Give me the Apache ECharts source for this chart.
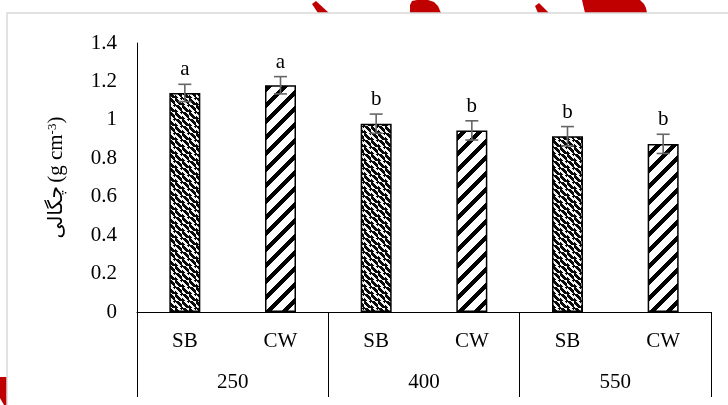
<!DOCTYPE html>
<html>
<head>
<meta charset="utf-8">
<script src="https://cdn.jsdelivr.net/npm/echarts@6/dist/echarts.min.js"></script>
<style>
html,body{margin:0;padding:0;background:#fff;}
#c{width:728px;height:405px;}
</style>
</head>
<body>
<div id="c"></div>
<script>
// ---- data ----
const subCategories = ['SB', 'CW', 'SB', 'CW', 'SB', 'CW'];
const groups = ['250', '400', '550'];
const density = [1.14, 1.18, 0.98, 0.945, 0.915, 0.875];
const errors = [0.045, 0.045, 0.05, 0.05, 0.05, 0.05];
const letters = ['a', 'a', 'b', 'b', 'b', 'b'];
const yMin = 0, yMax = 1.4, yStep = 0.2;

// ---- patterns ----
function makePattern(size, fn) {
  const c = document.createElement('canvas');
  c.width = size; c.height = size;
  const ctx = c.getContext('2d');
  const img = ctx.createImageData(size, size);
  for (let y = 0; y < size; y++) {
    for (let x = 0; x < size; x++) {
      const v = fn(x, y);
      const i = (y * size + x) * 4;
      img.data[i] = v; img.data[i + 1] = v; img.data[i + 2] = v; img.data[i + 3] = 255;
    }
  }
  ctx.putImageData(img, 0, 0);
  return c;
}
// SB: dense downward diagonal with a checker phase shift
const sbTile = makePattern(14, (x, y) => {
  const shift = ((Math.floor(x / 7) + Math.floor(y / 7)) % 2) * 2;
  const d = (x - y + shift + 140) % 7;
  return d < 4 ? 10 : 245;
});
// CW: wide upward diagonal
const cwTile = makePattern(16, (x, y) => (((x + y) % 16) < 6 ? 0 : 255));
const patterns = {
  SB: { image: sbTile, repeat: 'repeat' },
  CW: { image: cwTile, repeat: 'repeat' }
};

const FONT = '"Liberation Serif", "Times New Roman", serif';

const barData = density.map((v, i) => ({
  value: v,
  itemStyle: { color: patterns[subCategories[i]], borderColor: '#000', borderWidth: 1.5 }
}));
const errData = density.map((v, i) => [i, v, errors[i]]);

const RED = '#c00000';
const chart = echarts.init(document.getElementById('c'), null, { renderer: 'canvas' });
chart.setOption({
  animation: false,
  backgroundColor: '#fff',
  graphic: [
    { type: 'polygon', z: -5, shape: { points: [[312, 4], [316, 1], [329, 13], [318, 13]] }, style: { fill: RED } },
    { type: 'polygon', z: -5, shape: { points: [[410, 13], [410, 5], [412, 1], [417, 0], [428, 0], [434, 2], [438, 6], [441, 13]] }, style: { fill: RED } },
    { type: 'polygon', z: -5, shape: { points: [[535, 6], [539, 3], [549, 13], [538, 13]] }, style: { fill: RED } },
    { type: 'polygon', z: -5, shape: { points: [[582, 0], [640, 0], [644, 4], [646, 8], [647, 13], [585, 13]] }, style: { fill: RED } },
    { type: 'polygon', z: -5, shape: { points: [[0, 377], [7, 377], [7, 405], [4, 405], [0, 398]] }, style: { fill: RED } },
    { type: 'rect', z: -4, shape: { x: 7, y: 13, width: 800, height: 500 }, style: { fill: '#fff', stroke: '#d9d9d9', lineWidth: 1.5 } }
  ],
  grid: { left: 137, right: 17, top: 43, bottom: 93 },
  xAxis: [
    {
      type: 'category',
      data: subCategories,
      axisLine: { lineStyle: { color: '#000', width: 1 } },
      axisTick: { show: false },
      axisLabel: { color: '#000', fontFamily: FONT, fontSize: 21, margin: 19, interval: 0 }
    },
    {
      type: 'category',
      data: groups,
      position: 'bottom',
      boundaryGap: true,
      axisLine: { show: false },
      axisTick: { show: true, length: 85, lineStyle: { color: '#000', width: 1 } },
      axisLabel: { color: '#000', fontFamily: FONT, fontSize: 21, margin: 60, interval: 0 }
    }
  ],
  yAxis: {
    type: 'value',
    min: yMin, max: yMax, interval: yStep,
    axisLine: { show: true, lineStyle: { color: '#000', width: 1 } },
    axisTick: { show: false },
    splitLine: { show: false },
    axisLabel: { color: '#000', fontFamily: FONT, fontSize: 21, margin: 20 },
    name: '{fa|چگالی} {t|(g cm}{sup|-3}{t|)}',
    nameLocation: 'middle',
    nameGap: 70,
    nameTextStyle: {
      rich: {
        fa: { fontFamily: '"DejaVu Sans", sans-serif', fontSize: 20, color: '#000' },
        t: { fontFamily: FONT, fontSize: 21, color: '#000' },
        sup: { fontFamily: FONT, fontSize: 13, color: '#000', verticalAlign: 'top', padding: [0, 0, 8, 0] }
      }
    }
  },
  series: [
    {
      type: 'bar',
      xAxisIndex: 0,
      data: barData,
      barWidth: 31,
      z: 2
    },
    {
      type: 'custom',
      xAxisIndex: 0,
      z: 5,
      data: errData,
      renderItem: function (params, api) {
        const x = api.value(0);
        const v = api.value(1);
        const e = api.value(2);
        const top = api.coord([x, v + e]);
        const bot = api.coord([x, v - e]);
        const hw = 6.5;
        const ls = { stroke: '#666', lineWidth: 1.6 };
        return {
          type: 'group',
          children: [
            { type: 'line', shape: { x1: top[0], y1: top[1], x2: bot[0], y2: bot[1] }, style: ls },
            { type: 'line', shape: { x1: top[0] - hw, y1: top[1], x2: top[0] + hw, y2: top[1] }, style: ls },
            { type: 'line', shape: { x1: bot[0] - hw, y1: bot[1], x2: bot[0] + hw, y2: bot[1] }, style: ls },
            {
              type: 'text',
              style: {
                x: top[0], y: top[1] - 4,
                text: letters[params.dataIndex],
                align: 'center', verticalAlign: 'bottom',
                font: '21px ' + FONT, fill: '#000'
              }
            }
          ]
        };
      }
    }
  ]
});
</script>
</body>
</html>
